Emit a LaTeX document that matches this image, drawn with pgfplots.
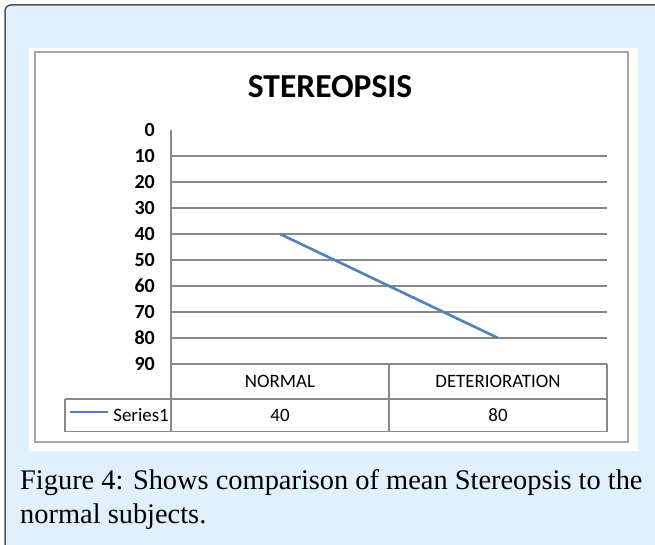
\documentclass[border=0pt]{standalone}
\usepackage{pgfplots}
\pgfplotsset{compat=1.18}
\usepackage{fontspec}
\setmainfont{Carlito}
\newfontfamily\capfont{Liberation Serif}
\definecolor{panel}{HTML}{E1F1FB}
\definecolor{panelborder}{HTML}{505050}
\definecolor{innerborder}{HTML}{A6A6A6}
\definecolor{gridgray}{HTML}{898989}
\definecolor{serieblue}{HTML}{4F81BD}
\begin{document}
\begin{tikzpicture}[x=1pt,y=1pt]
\useasboundingbox (0,0) rectangle (655,544);
\begin{scope}
\clip (0,0) rectangle (655,544);
\filldraw[fill=panel,draw=panelborder,line width=1.5pt,rounded corners=6pt] (5,539) rectangle (680,-20);
\end{scope}
\fill[white] (29,496) rectangle (638,93);
\draw[innerborder,line width=2pt] (34.5,491.5) rectangle (628,102);
\node[font=\fontsize{33.5}{38}\selectfont\bfseries] at (330,457) {STEREOPSIS};
\begin{axis}[
  at={(389pt,297pt)}, anchor=center,
  width=436pt, height=234pt, scale only axis,
  xmin=-0.5, xmax=1.5, ymin=0, ymax=90,
  y dir=reverse,
  axis x line=none,
  axis y line*=left,
  y axis line style={-,draw=gridgray,line width=1.2pt},
  ytick={10,20,...,90},
  extra y ticks={0},
  extra y tick style={grid=none},
  ymajorgrids,
  major grid style={gridgray,line width=1.2pt},
  major tick length=0pt,
  /pgf/number format/assume math mode=true,
  yticklabel style={font=\fontsize{20}{22}\selectfont\bfseries, anchor=east, inner sep=0pt, xshift=-16pt},
  clip=false,
]
\addplot[color=serieblue, line width=2.6pt] coordinates {(0,40) (1,80)};
\end{axis}
% data table
\begin{scope}[gridgray,line width=1.4pt]
\draw (171,180) -- (171,112.5);
\draw (389,180) -- (389,112.5);
\draw (607,180) -- (607,112.5);
\draw (171,180) -- (607,180);
\draw (65,145) -- (607,145);
\draw (65,112.5) -- (607,112.5);
\draw (65,145) -- (65,112.5);
\end{scope}
\draw[serieblue,line width=2.6pt] (70,132) -- (108,132);
\begin{scope}[font=\fontsize{18.9}{22}\selectfont]
\node at (280,163) {NORMAL};
\node at (498,163) {DETERIORATION};
\node[anchor=east,inner sep=0pt] at (169,129) {Series1};
\node at (280,129) {40};
\node at (498,129) {80};
\end{scope}
\node[anchor=base west,inner sep=0pt,font=\capfont\fontsize{28.4}{32}\selectfont] at (20,55) {Figure 4: Shows comparison of mean Stereopsis to the};
\node[anchor=base west,inner sep=0pt,font=\capfont\fontsize{28.4}{32}\selectfont] at (20,21) {normal subjects.};
\end{tikzpicture}
\end{document}
